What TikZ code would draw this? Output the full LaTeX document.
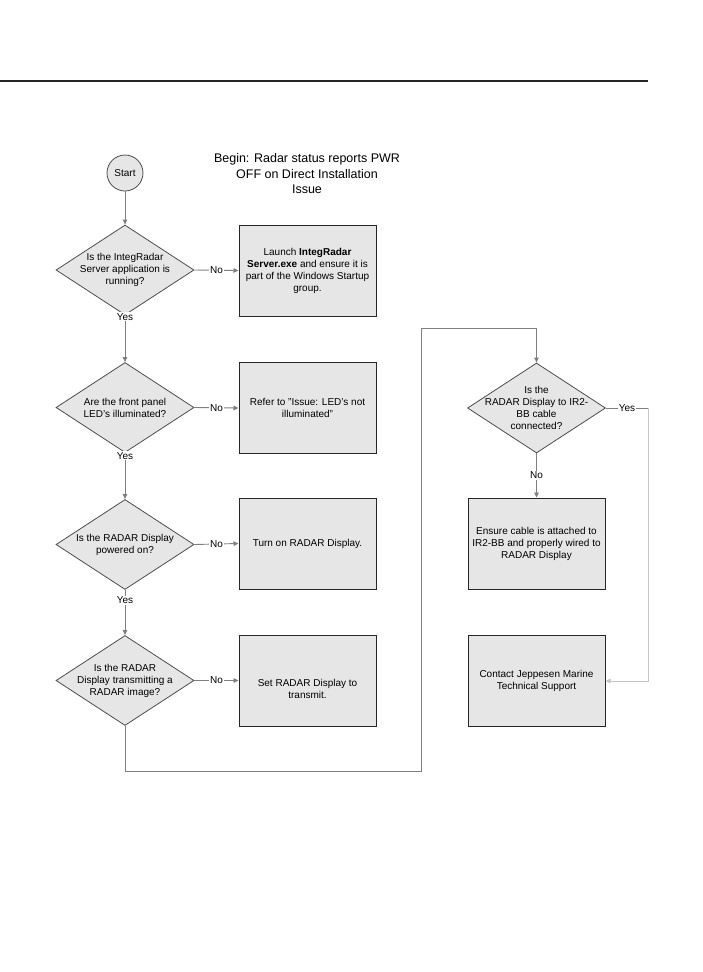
\documentclass[tikz,border=0pt]{standalone}
\usepackage{fontspec}
\setmainfont{Liberation Sans}
\usetikzlibrary{shapes.geometric,arrows.meta}
\definecolor{boxfill}{HTML}{E6E6E6}
\definecolor{conn}{HTML}{7F7F7F}
\definecolor{dborder}{HTML}{4D4D4D}
\tikzset{
  dia/.style={shape=diamond, draw=dborder, fill=boxfill, line width=0.8pt, minimum width=138pt, minimum height=90pt, inner sep=0pt},
  dtext/.style={align=center, font=\fontsize{10}{12}\selectfont, inner sep=0pt},
  actbox/.style={rectangle, draw=black!85, fill=boxfill, line width=1pt, minimum width=137pt, minimum height=91pt, align=center, font=\fontsize{10}{12}\selectfont, inner sep=2pt},
  startc/.style={circle, draw=dborder, fill=boxfill, line width=0.8pt, minimum size=36pt, inner sep=0pt, font=\fontsize{10}{12}\selectfont},
  conline/.style={draw=conn, line width=0.9pt},
  arr/.style={conline, -{Triangle[length=5pt,width=4.5pt]}},
  lab/.style={fill=white, inner sep=1pt, font=\fontsize{10}{11}\selectfont},
}
\begin{document}
\begin{tikzpicture}[x=1pt,y=-1pt]
\useasboundingbox (0,0) rectangle (702,972);
\draw[line width=1.2pt, black!85] (0,81) -- (648,81);

\node[align=center, font=\fontsize{12.5}{15.5}\selectfont] (title) at (307,174)
  {Begin: Radar status reports PWR\\OFF on Direct Installation\\Issue};

\node[startc] (start) at (125,173) {Start};

\node[dia] (d1) at (125,270) {};
\node[dtext] (t1) at (d1) {Is the IntegRadar\\Server application is\\running?};
\node[actbox] (b1) at (307.5,270.5) {Launch \textbf{IntegRadar}\\\textbf{Server.exe} and ensure it is\\part of the Windows Startup\\group.};

\node[dia] (d2) at (125,407.5) {};
\node[dtext] (t2) at (d2) {Are the front panel\\LED’s illuminated?};
\node[actbox] (b2) at (307.5,408) {Refer to "Issue: LED's not\\illuminated"};

\node[dia] (d3) at (125,544.5) {};
\node[dtext] (t3) at (d3) {Is the RADAR Display\\powered on?};
\node[actbox] (b3) at (307.5,543.5) {Turn on RADAR Display.};

\node[dia] (d4) at (125,680.5) {};
\node[dtext] (t4) at (d4) {Is the RADAR\\Display transmitting a\\RADAR image?};
\node[actbox] (b4) at (307.5,680.5) {\rule{0pt}{24pt}Set RADAR Display to\\transmit.};

\node[dia] (d5) at (536.5,408) {};
\node[dtext] (t5) at (d5) {Is the\\RADAR Display to IR2-\\BB cable\\connected?};
\node[actbox] (b5) at (536.5,543.5) {Ensure cable is attached to\\IR2-BB and properly wired to\\RADAR Display};
\node[actbox] (b6) at (536.5,681) {Contact Jeppesen Marine\\Technical Support};

\coordinate (c1) at (125,771);
\coordinate (c2) at (421,771);
\coordinate (c3) at (421,328);
\coordinate (c4) at (536.5,328);
\coordinate (c5) at (648,408);
\coordinate (c6) at (648,681);

\draw[arr] (start) -- (d1.north);
\draw[arr] (d1.east) -- node[lab] {No} (b1.west);
\draw[arr] (d1.south) -- node[lab, pos=0.03] {Yes} (d2.north);
\draw[arr] (d2.east) -- node[lab] {No} (b2.west);
\draw[arr] (d2.south) -- node[lab, pos=0.06] {Yes} (d3.north);
\draw[arr] (d3.east) -- node[lab] {No} (b3.west);
\draw[arr] (d3.south) -- node[lab, pos=0.23] {Yes} (d4.north);
\draw[arr] (d4.east) -- node[lab] {No} (b4.west);
\draw[arr] (d4.south) -- (c1) -- (c2) -- (c3) -- (c4) -- (d5.north);
\draw[arr] (d5.south) -- node[lab] {No} (b5.north);
\draw[conline] (d5.east) -- node[lab] {Yes} (c5);
\draw[arr, draw=conn!45] (c5) -- (c6) -- (b6.east);
\end{tikzpicture}
\end{document}
